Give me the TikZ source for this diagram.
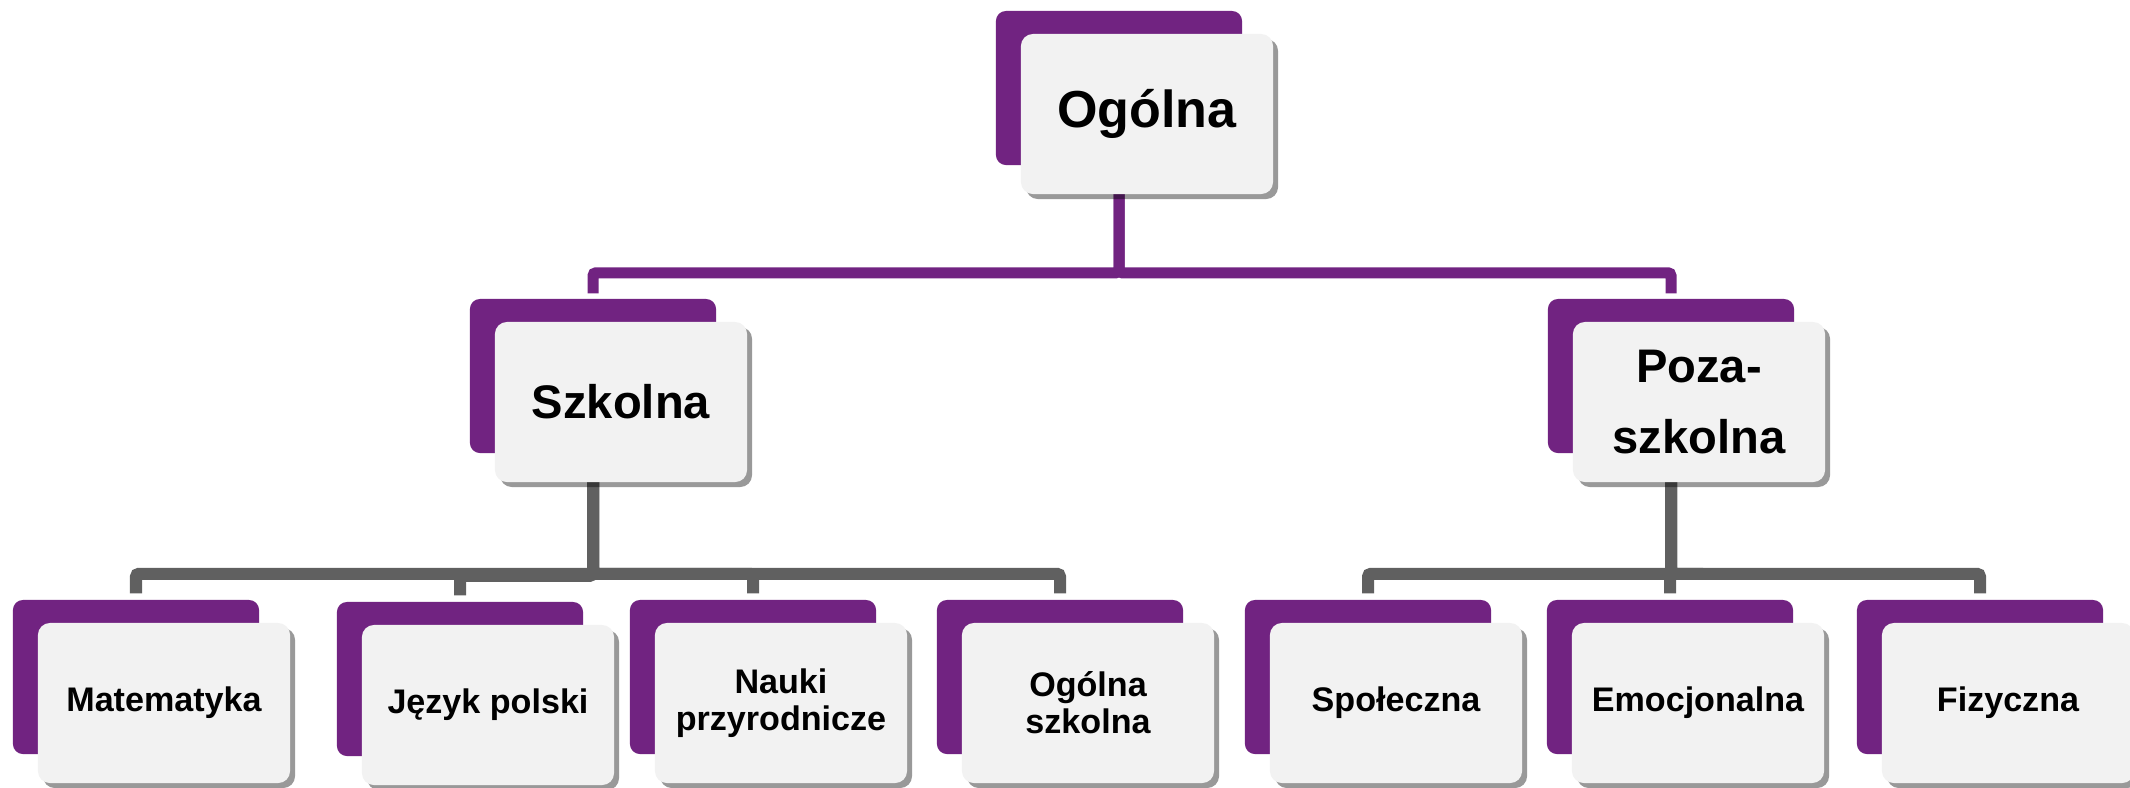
\documentclass[tikz,border=0pt]{standalone}
\usepackage{fontspec}
\setmainfont{Liberation Sans}
\usepackage{xcolor}
\definecolor{plum}{HTML}{712381}
\definecolor{cardfill}{HTML}{F2F2F2}
\definecolor{linkgray}{HTML}{606060}
\usepackage{tikz}
\usetikzlibrary{shadows,backgrounds}

\begin{document}
\begin{tikzpicture}[x=0.01cm, y=-0.01cm,
    backbox/.style={rectangle, rounded corners=0.1cm, fill=plum, minimum width=2.46cm, minimum height=1.54cm, inner sep=0pt},
    card/.style={rectangle, rounded corners=0.12cm, fill=cardfill, minimum width=2.52cm, minimum height=1.6cm, inner sep=0pt, align=center, text=black,
      drop shadow={shadow xshift=0.05cm, shadow yshift=-0.05cm, fill=black, opacity=0.4}},
    bigtext/.style={font=\fontsize{14.8}{17}\selectfont\bfseries},
    midtext/.style={font=\fontsize{13.4}{20.2}\selectfont\bfseries},
    smalltext/.style={font=\fontsize{9.7}{10.5}\selectfont\bfseries},
    toplink/.style={draw=plum, line width=0.11cm, rounded corners=0.03cm, shorten >=0.05cm},
    sublink/.style={draw=linkgray, line width=0.12cm, rounded corners=0.03cm, shorten >=0.06cm},
  ]
    \useasboundingbox (0,0) rectangle (2130,787);

    % top level
    \node[backbox] (top) at (1119,88) {};
    \node[card, bigtext] (top-f) at (1147,114) {Ogólna};

    % second level
    \node[backbox] (szk) at (593,376) {};
    \node[card, midtext] (szk-f) at (621,402) {Szkolna};
    \node[backbox] (poza) at (1671,376) {};
    \node[card, midtext] (poza-f) at (1699,402) {Poza-\\szkolna};

    % third level
    \node[backbox] (mat) at (136,677) {};
    \node[card, smalltext] (mat-f) at (164,703) {Matematyka};
    \node[backbox] (jp) at (460,679) {};
    \node[card, smalltext] (jp-f) at (488,705) {Język polski};
    \node[backbox] (np) at (753,677) {};
    \node[card, smalltext] (np-f) at (781,703) {Nauki\\przyrodnicze};
    \node[backbox] (os) at (1060,677) {};
    \node[card, smalltext] (os-f) at (1088,703) {Ogólna\\szkolna};
    \node[backbox] (spo) at (1368,677) {};
    \node[card, smalltext] (spo-f) at (1396,703) {Społeczna};
    \node[backbox] (emo) at (1670,677) {};
    \node[card, smalltext] (emo-f) at (1698,703) {Emocjonalna};
    \node[backbox] (fiz) at (1980,677) {};
    \node[card, smalltext] (fiz-f) at (2008,703) {Fizyczna};

    % connectors behind the boxes
    \begin{scope}[on background layer]
      \draw[toplink] (top.south) -- ++(0,107) -| (szk.north);
      \draw[toplink] (top.south) -- ++(0,107) -| (poza.north);
      \draw[sublink] (szk.south) -- ++(0,120) -| (mat.north);
      \draw[sublink] (szk.south) -- ++(0,122) -| (jp.north);
      \draw[sublink] (szk.south) -- ++(0,120) -| (np.north);
      \draw[sublink] (szk.south) -- ++(0,120) -| (os.north);
      \draw[sublink] (poza.south) -- ++(0,120) -| (spo.north);
      \draw[sublink] (poza.south) -- ++(0,120) -| (emo.north);
      \draw[sublink] (poza.south) -- ++(0,120) -| (fiz.north);
    \end{scope}
  \end{tikzpicture}
\end{document}
